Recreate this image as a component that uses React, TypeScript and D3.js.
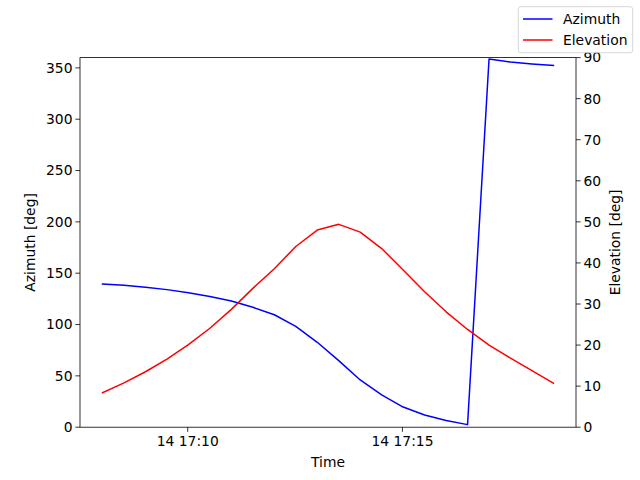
import React from "react";
import * as d3 from "d3";

const times = [
  "17:08:01", "17:08:31", "17:09:01", "17:09:31", "17:10:01", "17:10:31",
  "17:11:01", "17:11:31", "17:12:01", "17:12:31", "17:13:01", "17:13:31",
  "17:14:01", "17:14:31", "17:15:01", "17:15:31", "17:16:01", "17:16:31",
  "17:17:01", "17:17:31", "17:18:01", "17:18:31",
];
const azimuth = [
  139.5, 138.2, 136.2, 134.0, 131.0, 127.3, 123.0, 116.8, 109.5, 98.2, 82.7, 64.8,
  46.0, 31.4, 19.6, 11.9, 6.5, 2.5, 358.6, 355.6, 353.8, 352.4,
];
const elevation = [
  8.4, 10.8, 13.5, 16.6, 20.1, 24.1, 28.7, 33.8, 38.6, 44.0, 48.0, 49.4,
  47.5, 43.5, 38.3, 33.0, 28.1, 23.8, 20.0, 16.8, 13.8, 10.7,
];
const azTicks = [0, 50, 100, 150, 200, 250, 300, 350];
const elTicks = [0, 10, 20, 30, 40, 50, 60, 70, 80, 90];
const seriesNames = ["Azimuth", "Elevation"];
const seriesColors = ["#0000ff", "#ff0000"];

const W = 640, H = 480;
const L = 80, R = 576, T = 57.6, B = 427.2;
const FONT = "DejaVu Sans, sans-serif";
const FS = 13.89;

export default function App() {
  const dates = times.map((t) => new Date(`2024-01-14T${t}Z`));
  const [d0, d1] = d3.extent(dates) as [Date, Date];
  const span = d1.getTime() - d0.getTime();
  const x = d3
    .scaleUtc()
    .domain([new Date(d0.getTime() - span * 0.05), new Date(d1.getTime() + span * 0.05)])
    .range([L, R]);
  const yAz = d3.scaleLinear().domain([0, 360]).range([B, T]);
  const yEl = d3.scaleLinear().domain([0, 90]).range([B, T]);
  const xTicks = x.ticks(d3.utcMinute.every(5)!);
  const fmt = d3.utcFormat("%d %H:%M");

  const azLine = d3
    .line<number>()
    .x((_, i) => x(dates[i]))
    .y((v) => yAz(v))(azimuth)!;
  const elLine = d3
    .line<number>()
    .x((_, i) => x(dates[i]))
    .y((v) => yEl(v))(elevation)!;

  return (
    <svg
      width={W}
      height={H}
      style={{ position: "absolute", left: 0, top: 0 }}
      fontFamily={FONT}
    >
      <rect width={W} height={H} fill="#fff" />
      <defs>
        <clipPath id="clip">
          <rect x={L} y={T} width={R - L} height={B - T} />
        </clipPath>
      </defs>
      <g clipPath="url(#clip)" fill="none" strokeWidth={1.5} strokeLinejoin="round" strokeLinecap="square">
        <path d={azLine} stroke={seriesColors[0]} />
        <path d={elLine} stroke={seriesColors[1]} />
      </g>
      <rect x={L} y={T} width={R - L} height={B - T} fill="none" stroke="#000" strokeWidth={0.8} />
      {xTicks.map((t, i) => (
        <g key={i} transform={`translate(${x(t)},${B})`}>
          <line y2={4.67} stroke="#000" strokeWidth={0.8} />
          <text y={18.5} textAnchor="middle" fontSize={FS}>
            {fmt(t)}
          </text>
        </g>
      ))}
      {azTicks.map((v) => (
        <g key={v} transform={`translate(${L},${yAz(v)})`}>
          <line x2={-4.67} stroke="#000" strokeWidth={0.8} />
          <text x={-7.5} dy="0.35em" textAnchor="end" fontSize={FS}>
            {v}
          </text>
        </g>
      ))}
      {elTicks.map((v) => (
        <g key={v} transform={`translate(${R},${yEl(v)})`}>
          <line x2={4.67} stroke="#000" strokeWidth={0.8} />
          <text x={7.5} dy="0.35em" textAnchor="start" fontSize={FS}>
            {v}
          </text>
        </g>
      ))}
      <text x={(L + R) / 2} y={467} textAnchor="middle" fontSize={FS}>
        Time
      </text>
      <text
        transform={`translate(35,${(T + B) / 2}) rotate(-90)`}
        textAnchor="middle"
        fontSize={FS}
      >
        Azimuth [deg]
      </text>
      <text
        transform={`translate(620,${(T + B) / 2}) rotate(-90)`}
        textAnchor="middle"
        fontSize={FS}
      >
        Elevation [deg]
      </text>
      <g>
        <rect
          x={518.3}
          y={6.7}
          width={114.4}
          height={46}
          rx={2.5}
          fill="#fff"
          fillOpacity={0.8}
          stroke="#cccccc"
          strokeWidth={0.8}
        />
        {seriesNames.map((n, i) => (
          <g key={n} transform={`translate(0,${19 + i * 21})`}>
            <line x1={523} x2={552.5} stroke={seriesColors[i]} strokeWidth={1.5} />
            <text x={563} dy="0.35em" fontSize={FS}>
              {n}
            </text>
          </g>
        ))}
      </g>
    </svg>
  );
}
